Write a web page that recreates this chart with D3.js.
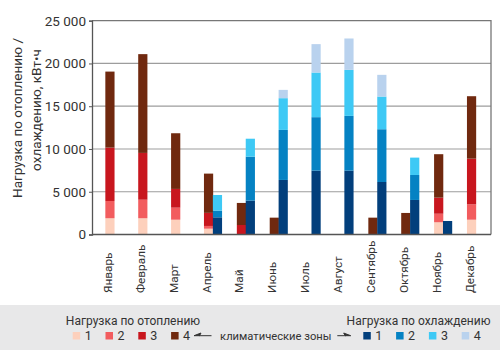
<!doctype HTML>
<html>
<head>
    <meta charset="utf-8">
    <script src="https://d3js.org/d3.v7.min.js"></script>
    <style>
        body { margin: 0; background: #fff; }
        text { font-family: Roboto, "Liberation Sans", sans-serif; fill: #333; }
    </style>
</head>
<body>
<script>

    // months (x categories)
    var months = ["Январь", "Февраль", "Март", "Апрель", "Май", "Июнь", "Июль",
        "Август", "Сентябрь", "Октябрь", "Ноябрь", "Декабрь"];

    // heating load per climate zone, kWh (stacked segments)
    var heat1 = [1900, 1900, 1730, 680, 0, 0, 0, 0, 0, 0, 1430, 1730];
    var heat2 = [2020, 2170, 1410, 320, 0, 0, 0, 0, 0, 0, 1000, 1800];
    var heat3 = [6240, 5470, 2190, 1530, 1110, 0, 0, 0, 0, 0, 1880, 5340];
    var heat4 = [8890, 11550, 6510, 4590, 2580, 1970, 0, 0, 1970, 2520, 5080, 7300];

    // cooling load per climate zone, kWh (stacked segments)
    var cool1 = [0, 0, 0, 2010, 3960, 6380, 7470, 7470, 6140, 4040, 1580, 0];
    var cool2 = [0, 0, 0, 780, 5140, 5850, 6250, 6400, 6170, 2920, 0, 0];
    var cool3 = [0, 0, 0, 1830, 2100, 3710, 5220, 5380, 3820, 2030, 0, 0];
    var cool4 = [0, 0, 0, 0, 0, 970, 3320, 3670, 2540, 0, 0, 0];

    var yTicks = [0, 5000, 10000, 15000, 20000, 25000];
    var zones = ["1", "2", "3", "4"];
    var heatColors = ["#fdd0bc", "#f25c5e", "#c8161e", "#70290f"];
    var coolColors = ["#023f7c", "#0582c3", "#3ec9f5", "#b9d2ee"];

    var W = 500, H = 353;
    var plot = {left: 92, right: 491, top: 20.7, bottom: 234.5};

    var svg = d3.select("body")
        .append("svg")
        .attr("width", W)
        .attr("height", H);

    var x = d3.scaleBand()
        .domain(months)
        .range([93.5, 488]);

    var y = d3.scaleLinear()
        .domain([0, 25000])
        .range([plot.bottom, plot.top]);

    var barW = 9.2;

    // gridlines
    svg.append("g")
        .selectAll("line")
        .data(yTicks.slice(1, 5))
        .enter()
        .append("line")
        .attr("x1", plot.left)
        .attr("x2", plot.right)
        .attr("y1", function (d) {return y(d);})
        .attr("y2", function (d) {return y(d);})
        .attr("stroke", "#9d9d9d")
        .attr("stroke-width", 1.2);

    // frame top / right
    svg.append("path")
        .attr("d", "M" + plot.left + "," + plot.top + "H" + plot.right + "V" + plot.bottom)
        .attr("fill", "none")
        .attr("stroke", "#777")
        .attr("stroke-width", 1.3);

    // build stacked rows
    function rows(a, b, c, d) {
        return months.map(function (m, i) {
            return {month: m, "1": a[i], "2": b[i], "3": c[i], "4": d[i]};
        });
    }

    var stack = d3.stack().keys(zones);
    var heatStack = stack(rows(heat1, heat2, heat3, heat4));
    var coolStack = stack(rows(cool1, cool2, cool3, cool4));

    function center(m) {return x(m) + x.bandwidth() / 2;}

    function drawStack(series, colors, offset) {
        svg.append("g")
            .selectAll("g")
            .data(series)
            .enter()
            .append("g")
            .attr("fill", function (d, i) {return colors[i];})
            .selectAll("rect")
            .data(function (d) {return d;})
            .enter()
            .append("rect")
            .attr("x", function (d) {return center(d.data.month) + offset;})
            .attr("width", barW)
            .attr("y", function (d) {return y(d[1]);})
            .attr("height", function (d) {return y(d[0]) - y(d[1]);});
    }

    drawStack(heatStack, heatColors, -barW / 2);
    drawStack(coolStack, coolColors, barW / 2 - 0.3);

    // Y axis
    var yAxis = svg.append("g")
        .attr("transform", "translate(" + plot.left + ",0)")
        .call(d3.axisLeft(y)
            .tickValues(yTicks)
            .tickSize(3)
            .tickPadding(3)
            .tickFormat(function (d) {return d3.format(",")(d).replace(",", " ");}));
    yAxis.select(".domain").attr("stroke", "#555").attr("stroke-width", 1.3);
    yAxis.selectAll(".tick line").attr("stroke", "#555");
    yAxis.selectAll("text")
        .attr("font-size", "13.5px")
        .attr("fill", "#3a3a3a");

    // X axis line
    svg.append("line")
        .attr("x1", plot.left)
        .attr("x2", plot.right)
        .attr("y1", plot.bottom)
        .attr("y2", plot.bottom)
        .attr("stroke", "#555")
        .attr("stroke-width", 1.4);

    // month labels
    svg.append("g")
        .selectAll("text")
        .data(months)
        .enter()
        .append("text")
        .attr("transform", function (d) {
            return "translate(" + (center(d) + 2) + ",293) rotate(-90)";
        })
        .attr("text-anchor", "start")
        .attr("font-size", "11.8px")
        .attr("fill", "#3a3a3a")
        .text(function (d) {return d;});

    // y axis title
    svg.append("text")
        .attr("transform", "translate(21.5,118) rotate(-90)")
        .attr("text-anchor", "middle")
        .attr("font-size", "13.5px")
        .attr("fill", "#3a3a3a")
        .text("Нагрузка по отоплению /");
    svg.append("text")
        .attr("transform", "translate(40.5,110) rotate(-90)")
        .attr("text-anchor", "middle")
        .attr("font-size", "13.5px")
        .attr("fill", "#3a3a3a")
        .text("охлаждению, кВт•ч");

    // legend
    var legend = svg.append("g");
    legend.append("rect")
        .attr("x", 0)
        .attr("y", 305)
        .attr("width", W)
        .attr("height", 45)
        .attr("fill", "#e8e8e9");

    legend.append("text")
        .attr("x", 133)
        .attr("y", 325)
        .attr("text-anchor", "middle")
        .attr("font-size", "12px")
        .text("Нагрузка по отоплению");
    legend.append("text")
        .attr("x", 490.5)
        .attr("y", 325)
        .attr("text-anchor", "end")
        .attr("font-size", "12px")
        .text("Нагрузка по охлаждению");

    function legendRow(colors, x0) {
        var g = legend.append("g")
            .selectAll("g")
            .data(zones)
            .enter()
            .append("g")
            .attr("transform", function (d, i) {return "translate(" + (x0 + i * 32.8) + ",0)";});
        g.append("rect")
            .attr("x", 0)
            .attr("y", 332)
            .attr("width", 7.5)
            .attr("height", 7.5)
            .attr("fill", function (d, i) {return colors[i];});
        g.append("text")
            .attr("x", 12)
            .attr("y", 340)
            .attr("font-size", "12.5px")
            .text(function (d) {return d;});
    }
    legendRow(heatColors, 72.7);
    legendRow(coolColors, 363.3);

    legend.append("text")
        .attr("x", 275.8)
        .attr("y", 340)
        .attr("text-anchor", "middle")
        .attr("font-size", "11.2px")
        .text("климатические зоны");

    // arrows
    legend.append("path")
        .attr("d", "M194,335.7 L201,333 L199.5,335.7 Z M199,335.7 H211.5")
        .attr("stroke", "#333")
        .attr("stroke-width", 1)
        .attr("fill", "#333");
    legend.append("path")
        .attr("d", "M350.7,335.7 L343.7,333 L345.2,335.7 Z M337.3,335.7 H346")
        .attr("stroke", "#333")
        .attr("stroke-width", 1)
        .attr("fill", "#333");

</script>
</body>
</html>
